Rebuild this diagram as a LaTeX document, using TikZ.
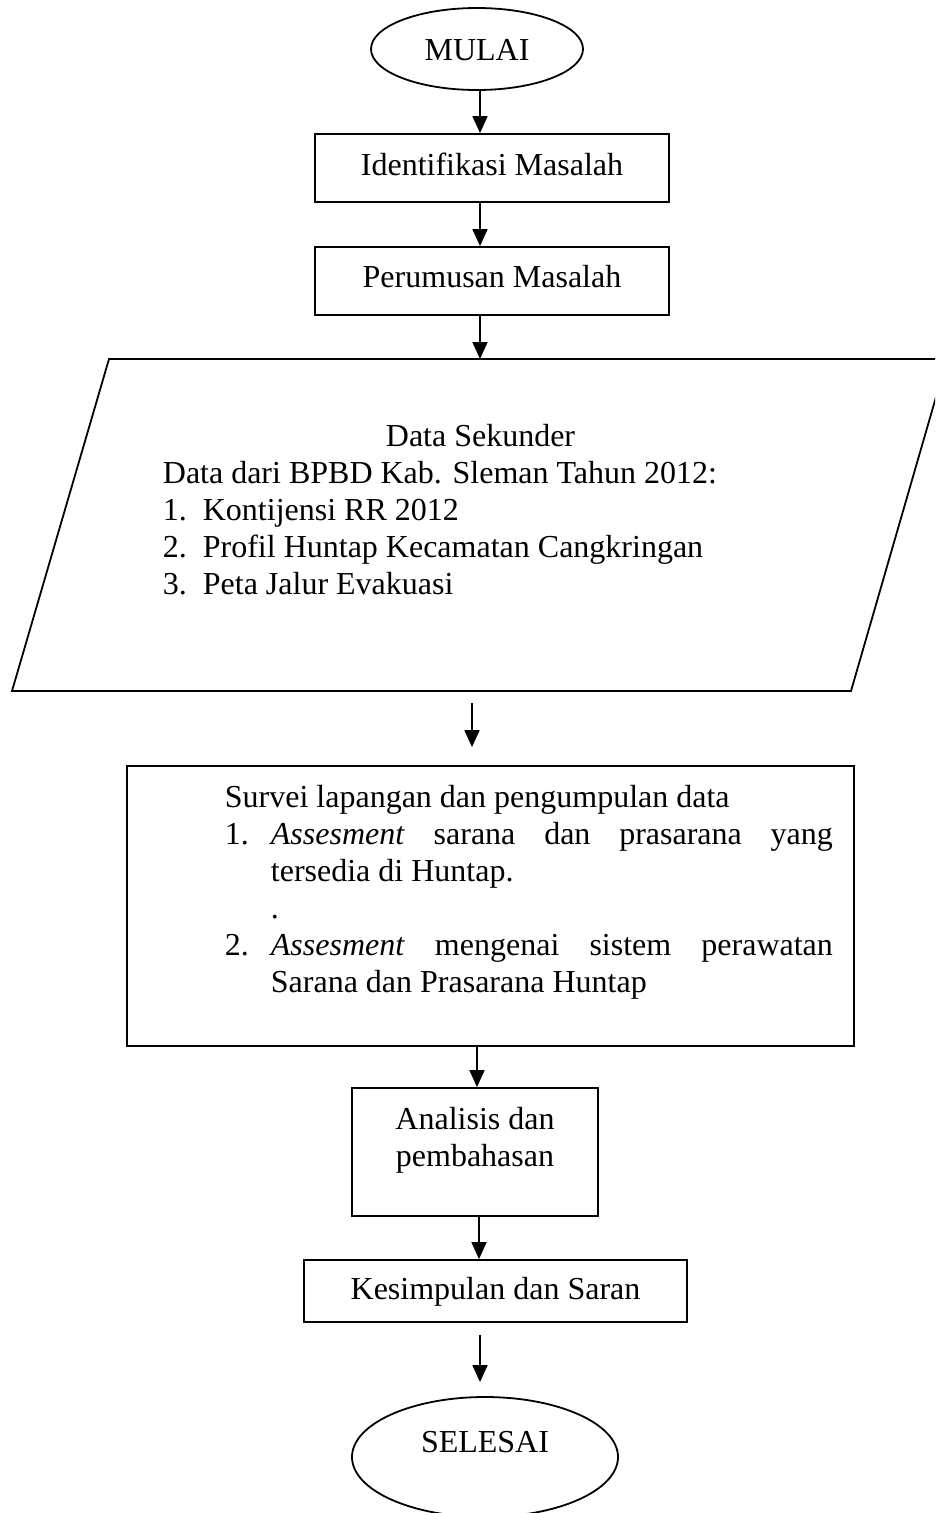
\documentclass[tikz,border=0pt]{standalone}
\usepackage{fontspec}
\setmainfont{Liberation Serif}
\usetikzlibrary{arrows.meta,shapes.geometric,calc}
\begin{document}
\begin{tikzpicture}[x=1pt,y=-1pt,
  font=\fontsize{32}{37}\selectfont,
  line width=1.8pt,
  box/.style={draw, rectangle, inner sep=0pt},
  term/.style={draw, ellipse, inner sep=0pt},
  txt/.style={inner sep=0pt, align=left},
  arr/.style={-{Triangle[length=17pt,width=15pt]}},
]
\useasboundingbox (0,0) rectangle (935,1513);
\clip (0,0) rectangle (935,1513);

% columns for connectors
\coordinate (colA) at (480,0);
\coordinate (colB) at (477,0);
\coordinate (colC) at (479,0);

% terminals and process boxes
\node[term, minimum width=212, minimum height=82, text height=26, text depth=4] (mulai) at (477,49) {MULAI};
\node[box, minimum width=354, minimum height=68, text height=24, text depth=10] (idm) at (492,168) {Identifikasi Masalah};
\node[box, minimum width=354, minimum height=68, text height=24, text depth=12] (pm) at (492,281) {Perumusan Masalah};

% data (parallelogram)
\coordinate (pTL) at (109,359);
\coordinate (pTR) at (947,359);
\coordinate (pBR) at (851,691);
\coordinate (pBL) at (12,691);
\draw (pTL) -- (pTR) -- (pBR) -- (pBL) -- cycle;
\coordinate (dsTop) at (480,359);
\coordinate (dsBot) at (472,691);
\node[txt, anchor=north west] (dstxt) at (162,423) {%
\hspace*{223pt}Data Sekunder\\
Data dari BPBD Kab. Sleman Tahun 2012:\\
\makebox[40pt][l]{1.}Kontijensi RR 2012\\
\makebox[40pt][l]{2.}Profil Huntap Kecamatan Cangkringan\\
\makebox[40pt][l]{3.}Peta Jalur Evakuasi};

% survey box
\node[box, minimum width=727, minimum height=280] (sv) at (490.5,906) {};
\node[txt, anchor=north west] (svtxt) at (224,784) {%
Survei lapangan dan pengumpulan data\\
\makebox[46pt][l]{1.}\makebox[562pt][s]{\textit{Assesment} sarana dan prasarana yang}\\
\hspace*{46pt}tersedia di Huntap.\\
\hspace*{46pt}.\\
\makebox[46pt][l]{2.}\makebox[562pt][s]{\textit{Assesment} mengenai sistem perawatan}\\
\hspace*{46pt}Sarana dan Prasarana Huntap};

% analysis
\node[box, minimum width=246, minimum height=128] (an) at (475,1152) {};
\node[inner sep=0pt, align=center, anchor=north] (antxt) at (475,1106) {Analisis dan\\pembahasan};

\node[box, minimum width=383, minimum height=62, text height=24, text depth=8] (ks) at (495.5,1291) {Kesimpulan dan Saran};
\node[term, minimum width=266, minimum height=120, text height=22, text depth=32] (sel) at (485,1457) {SELESAI};

% connectors
\draw[arr] (mulai.south -| colA) -- (idm.north -| colA);
\draw[arr] (idm.south -| colA) -- (pm.north -| colA);
\draw[arr] (pm.south -| colA) -- (dsTop);
\draw[arr, shorten <=12pt, shorten >=18pt] (dsBot) -- (dsBot |- sv.north);
\draw[arr] (sv.south -| colB) -- (an.north -| colB);
\draw[arr] (an.south -| colC) -- (ks.north -| colC);
\draw[arr, shorten <=12pt, shorten >=14pt] (ks.south -| colA) -- (sel.north -| colA);
\end{tikzpicture}
\end{document}
